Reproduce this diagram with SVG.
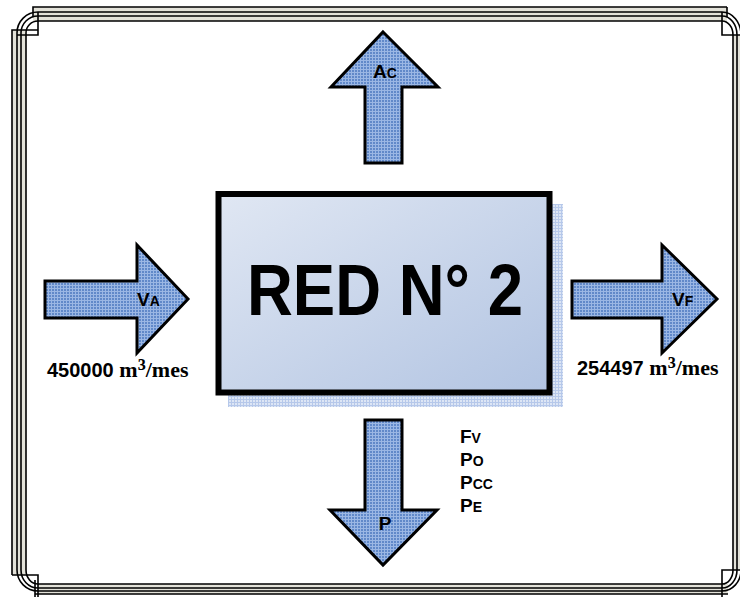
<svg xmlns="http://www.w3.org/2000/svg" width="740" height="597" viewBox="0 0 740 597">
<defs>
<pattern id="hatch" width="3" height="3" patternUnits="userSpaceOnUse">
<rect width="3" height="3" fill="#6189c9"/>
<path d="M0,0.5 H3 M0.5,0 V3" stroke="#9bb7e4" stroke-width="1"/>
</pattern>
<pattern id="shade" width="3" height="3" patternUnits="userSpaceOnUse">
<rect width="3" height="3" fill="#dde6f5"/>
<path d="M0,0.5 H3 M0.5,0 V3" stroke="#b6c8ea" stroke-width="1"/>
</pattern>
<linearGradient id="boxg" x1="0" y1="0" x2="1" y2="1">
<stop offset="0" stop-color="#e0e7f3"/>
<stop offset="1" stop-color="#b2c4e2"/>
</linearGradient>
</defs>
<style>
.arrow{fill:url(#hatch);stroke:#000;stroke-width:3;stroke-linejoin:miter}
.lbl{font-family:"Liberation Sans",Arial,sans-serif;font-weight:bold;fill:#000}
.big{font-size:19px}
.sm{font-size:14px}
.num{font-family:"Liberation Sans",Arial,sans-serif;font-weight:bold;font-size:20px}
.unit{font-family:"Liberation Serif","Times New Roman",serif;font-weight:bold;font-size:22px}
.sup{font-size:27px}
.band{fill:#e3e2d9;stroke:none}
.fl{fill:none;stroke:#000;stroke-width:1.6}
</style>
<rect width="740" height="597" fill="#fff"/>
<g id="frame">
<rect class="band" x="33" y="7" width="694" height="14"/>
<rect class="band" x="12" y="30" width="14" height="545"/>
<rect class="band" x="38" y="584" width="690" height="10"/>
<rect class="band" x="733" y="35" width="13" height="535"/>
<path class="fl" d="M727,7 H33 V17 M38,12 H722 M38,16 H722 M38,21 H722 M727,7 V17"/>
<path class="fl" d="M12,575 V30 H38 M17,33 V570 M21,33 V570 M26,33 V570"/>
<path class="fl" d="M38,12 V35 H17"/>
<path class="fl" d="M17,33 A21,21 0 0 1 38,12 M21,33 A17,17 0 0 1 38,16 M26,33 A12,12 0 0 1 38,21"/>
<path class="fl" d="M722,12 V35 H746 M733,35 V570 M737,35 V570 M741,35 V570"/>
<path class="fl" d="M722,12 A19,23 0 0 1 741,35 M722,16 A15,19 0 0 1 737,35 M722,21 A11,14 0 0 1 733,35"/>
<path class="fl" d="M12,575 H38 V597 M38,584 H722 M38,588 H722 M38,591 H722 M35,594 H728 M35,580 V597"/>
<path class="fl" d="M17,570 A21,21 0 0 0 38,591 M21,570 A17,18 0 0 0 38,588 M26,570 A12,14 0 0 0 38,584"/>
<path class="fl" d="M722,597 V570 H746 M733,570 A11,14 0 0 1 722,584 M737,570 A15,18 0 0 1 722,588 M741,570 A19,21 0 0 1 722,591"/>
</g>
<g id="red">
<rect x="228" y="204" width="335" height="203" fill="url(#shade)"/>
<rect x="218.5" y="194" width="331" height="198.5" fill="url(#boxg)" stroke="#000" stroke-width="6"/>
<text x="247" y="315" textLength="276" lengthAdjust="spacingAndGlyphs" font-family="'Liberation Sans',Arial,sans-serif" font-weight="bold" font-size="72" fill="#000">RED N° 2</text>
</g>
<g id="connectors">
<g id="ac">
<path class="arrow" d="M383,32 L438,87 L402,87 L402,163 L365,163 L365,87 L331,87 Z"/>
<text class="lbl" x="385" y="78" text-anchor="middle"><tspan class="big">A</tspan><tspan class="sm">C</tspan></text>
</g>
<g id="va">
<path class="arrow" d="M45,281 L137,281 L137,245 L188,299 L137,353 L137,318 L45,318 Z"/>
<text class="lbl" x="137" y="306"><tspan class="big">V</tspan><tspan class="sm">A</tspan></text>
<text x="47" y="377"><tspan class="num">450000 </tspan><tspan class="unit">m</tspan><tspan class="unit sup">³</tspan><tspan class="unit">/mes</tspan></text>
</g>
<g id="vf">
<path class="arrow" d="M572,281 L662,281 L662,245 L717,299 L662,353 L662,318 L572,318 Z"/>
<text class="lbl" x="672" y="306"><tspan class="big">V</tspan><tspan class="sm">F</tspan></text>
<text x="577" y="375"><tspan class="num">254497 </tspan><tspan class="unit">m</tspan><tspan class="unit sup">³</tspan><tspan class="unit">/mes</tspan></text>
</g>
<g id="p">
<path class="arrow" d="M365,420 L402,420 L402,510 L437,510 L383,565 L330,510 L365,510 Z"/>
<text class="lbl big" x="385" y="530" text-anchor="middle">P</text>
</g>
</g>
<g id="losses">
<text class="lbl" x="460" y="443"><tspan class="big">F</tspan><tspan class="sm">V</tspan></text>
<text class="lbl" x="460" y="466"><tspan class="big">P</tspan><tspan class="sm">O</tspan></text>
<text class="lbl" x="460" y="489"><tspan class="big">P</tspan><tspan class="sm">CC</tspan></text>
<text class="lbl" x="460" y="512"><tspan class="big">P</tspan><tspan class="sm">E</tspan></text>
</g>
</svg>
